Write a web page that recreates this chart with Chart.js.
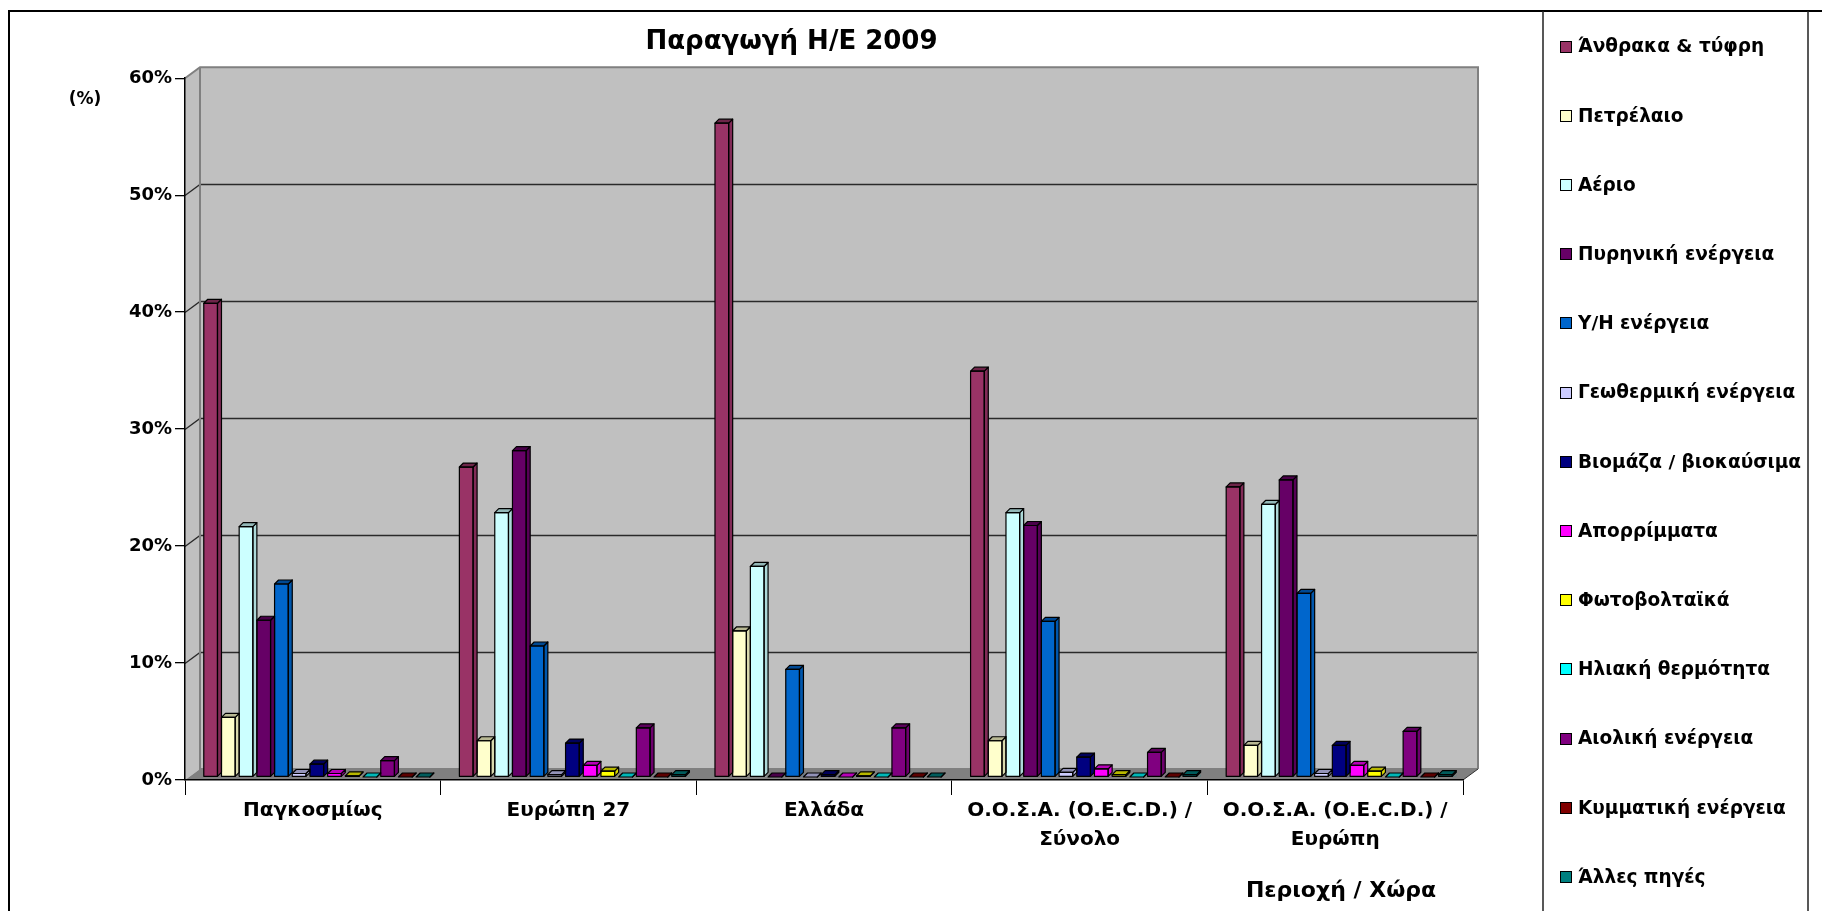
<!DOCTYPE html>
<html lang="el">
<head>
<meta charset="utf-8">
<title>Παραγωγή Η/Ε 2009</title>
<script src="https://cdn.jsdelivr.net/npm/chart.js@4/dist/chart.umd.min.js"></script>
<style>
  html, body { margin: 0; padding: 0; background: #fff; overflow: hidden; }
  canvas { display: block; }
</style>
</head>
<body>
<canvas id="chart" width="1822" height="911"></canvas>
<script>
// ---- data ----
const categories = [
  "Παγκοσμίως",
  "Ευρώπη 27",
  "Ελλάδα",
  ["Ο.Ο.Σ.Α. (O.E.C.D.) /", "Σύνολο"],
  ["Ο.Ο.Σ.Α. (O.E.C.D.) /", "Ευρώπη"]
];

const sourceLabels = [
  "Άνθρακα & τύφρη", "Πετρέλαιο", "Αέριο", "Πυρηνική ενέργεια", "Υ/Η ενέργεια",
  "Γεωθερμική ενέργεια", "Βιομάζα / βιοκαύσιμα", "Απορρίμματα", "Φωτοβολταϊκά",
  "Ηλιακή θερμότητα", "Αιολική ενέργεια", "Κυμματική ενέργεια", "Άλλες πηγές"
];

const sourceColors = [
  "#993366", "#FFFFCC", "#CCFFFF", "#660066", "#0066CC",
  "#CCCCFF", "#000080", "#FF00FF", "#FFFF00",
  "#00FFFF", "#800080", "#800000", "#008080"
];

// share of electricity production (%), per region in category order
const coalPeat     = [40.5, 26.5, 55.9, 34.7, 24.8];
const oil          = [5.1, 3.1, 12.5, 3.1, 2.7];
const gas          = [21.4, 22.6, 18.0, 22.6, 23.3];
const nuclear      = [13.4, 27.9, 0, 21.5, 25.4];
const hydro        = [16.5, 11.2, 9.2, 13.3, 15.7];
const geothermal   = [0.3, 0.2, 0, 0.4, 0.3];
const biomass      = [1.1, 2.9, 0.2, 1.7, 2.7];
const waste        = [0.3, 1.0, 0, 0.7, 1.0];
const photovoltaic = [0.1, 0.5, 0.1, 0.2, 0.5];
const solarThermal = [0.0, 0.0, 0.0, 0.0, 0.0];
const wind         = [1.4, 4.2, 4.2, 2.1, 3.9];
const tidalWave    = [0, 0, 0, 0, 0];
const otherSources = [0, 0.2, 0, 0.2, 0.2];

const yTicks = [0, 10, 20, 30, 40, 50, 60];

const seriesValues = [
  coalPeat, oil, gas, nuclear, hydro, geothermal, biomass,
  waste, photovoltaic, solarThermal, wind, tidalWave, otherSources
];

// ---- drawing helpers ----
const FONT = "'DejaVu Sans', 'Liberation Sans', Arial, sans-serif";
const DEPTH_X = 15, DEPTH_Y = 11;   // depth of the plot box
const BAR_DX = 4, BAR_DY = 4;       // depth of each column
const ROW_SHIFT_X = 6, ROW_SHIFT_Y = -3; // columns stand slightly behind the front edge

function shade(hex, f) {
  const n = parseInt(hex.slice(1), 16);
  const r = Math.round(((n >> 16) & 255) * f);
  const g = Math.round(((n >> 8) & 255) * f);
  const b = Math.round((n & 255) * f);
  return `rgb(${r},${g},${b})`;
}

// frame, walls, floor and back-wall gridlines
const boxPlugin = {
  id: 'box3d',
  beforeDraw(chart) {
    const { ctx, width, height, chartArea: a, scales: { y } } = chart;
    ctx.save();
    ctx.fillStyle = '#fff';
    ctx.fillRect(0, 0, width, height);

    // outer frame
    ctx.strokeStyle = '#000';
    ctx.lineWidth = 2;
    ctx.beginPath();
    ctx.moveTo(9, height + 5);
    ctx.lineTo(9, 11);
    ctx.lineTo(width + 5, 11);
    ctx.stroke();

    const L = a.left, R = a.right, T = a.top, B = a.bottom;
    // left side wall
    ctx.fillStyle = '#c0c0c0';
    ctx.beginPath();
    ctx.moveTo(L, T); ctx.lineTo(L + DEPTH_X, T - DEPTH_Y);
    ctx.lineTo(L + DEPTH_X, B - DEPTH_Y); ctx.lineTo(L, B);
    ctx.closePath(); ctx.fill();
    // back wall
    ctx.fillRect(L + DEPTH_X, T - DEPTH_Y, R - L, B - T);
    // floor
    ctx.fillStyle = '#808080';
    ctx.beginPath();
    ctx.moveTo(L, B); ctx.lineTo(R, B);
    ctx.lineTo(R + DEPTH_X, B - DEPTH_Y); ctx.lineTo(L + DEPTH_X, B - DEPTH_Y);
    ctx.closePath(); ctx.fill();

    // gridlines on the back and side walls
    ctx.strokeStyle = '#2a2a2a';
    ctx.lineWidth = 1.3;
    yTicks.forEach(v => {
      if (v === yTicks[0] || v === yTicks[yTicks.length - 1]) return;
      const py = Math.round(y.getPixelForValue(v)) + 0.5;
      ctx.beginPath();
      ctx.moveTo(L, py);
      ctx.lineTo(L + DEPTH_X, py - DEPTH_Y);
      ctx.lineTo(R + DEPTH_X, py - DEPTH_Y);
      ctx.stroke();
    });
    // wall outlines
    ctx.strokeStyle = '#808080';
    ctx.lineWidth = 2;
    ctx.beginPath();
    ctx.moveTo(L, T); ctx.lineTo(L + DEPTH_X, T - DEPTH_Y);
    ctx.lineTo(R + DEPTH_X, T - DEPTH_Y); ctx.lineTo(R + DEPTH_X, B - DEPTH_Y);
    ctx.moveTo(L + DEPTH_X, T - DEPTH_Y); ctx.lineTo(L + DEPTH_X, B - DEPTH_Y);
    ctx.lineTo(R + DEPTH_X, B - DEPTH_Y);
    ctx.stroke();
    ctx.strokeStyle = '#333';
    ctx.lineWidth = 1;
    ctx.beginPath();
    ctx.moveTo(R, B); ctx.lineTo(R + DEPTH_X, B - DEPTH_Y);
    ctx.stroke();
    ctx.restore();
  },

  beforeDatasetsDraw(chart) {
    chart.ctx.save();
    chart.ctx.translate(ROW_SHIFT_X, ROW_SHIFT_Y);
  },

  // side and top faces of every column
  afterDatasetsDraw(chart) {
    const { ctx } = chart;
    ctx.save();
    ctx.lineJoin = 'round';
    chart.data.datasets.forEach((ds, i) => {
      const meta = chart.getDatasetMeta(i);
      const col = ds.backgroundColor;
      meta.data.forEach(el => {
        const { x, y, base, width } = el.getProps(['x', 'y', 'base', 'width'], true);
        const x0 = x - width / 2, x1 = x + width / 2;
        const top = Math.min(y, base);
        // floor showing under the receding side
        ctx.fillStyle = '#808080';
        ctx.beginPath();
        ctx.moveTo(x1 - BAR_DX, base); ctx.lineTo(x1, base - BAR_DY); ctx.lineTo(x1, base);
        ctx.closePath(); ctx.fill();
        ctx.strokeStyle = '#000';
        ctx.lineWidth = 1.2;
        // side face
        ctx.fillStyle = shade(col, 0.85);
        ctx.beginPath();
        ctx.moveTo(x1 - BAR_DX, base); ctx.lineTo(x1 - BAR_DX, top);
        ctx.lineTo(x1, top - BAR_DY); ctx.lineTo(x1, base - BAR_DY);
        ctx.closePath(); ctx.fill(); ctx.stroke();
        // top face
        ctx.fillStyle = shade(col, 0.72);
        ctx.beginPath();
        ctx.moveTo(x0, top); ctx.lineTo(x0 + BAR_DX, top - BAR_DY);
        ctx.lineTo(x1, top - BAR_DY); ctx.lineTo(x1 - BAR_DX, top);
        ctx.closePath(); ctx.fill(); ctx.stroke();
        // front face outline
        if (base - top > 0.5) ctx.strokeRect(x0, top, width - BAR_DX, base - top);
      });
    });
    ctx.restore();
    ctx.restore();
  },

  // unit label, axis title and legend
  afterDraw(chart) {
    const { ctx } = chart;
    ctx.save();
    ctx.fillStyle = '#000';
    ctx.textBaseline = 'middle';
    ctx.textAlign = 'center';
    ctx.font = `bold 17px ${FONT}`;
    ctx.fillText('(%)', 85, 100);
    ctx.font = `bold 22px ${FONT}`;
    ctx.fillText('Περιοχή / Χώρα', 1341, 891);

    // legend box
    ctx.strokeStyle = '#222';
    ctx.lineWidth = 1.5;
    ctx.beginPath();
    ctx.moveTo(1543, 11); ctx.lineTo(1543, 920);
    ctx.moveTo(1808, 11); ctx.lineTo(1808, 920);
    ctx.stroke();

    ctx.textAlign = 'left';
    ctx.font = `bold 18.5px ${FONT}`;
    chart.data.datasets.forEach((ds, i) => {
      const cy = 46.5 + i * 69.2;
      ctx.fillStyle = ds.backgroundColor;
      ctx.fillRect(1560, Math.round(cy - 6), 12, 12);
      ctx.strokeStyle = '#000';
      ctx.lineWidth = 1;
      ctx.strokeRect(1560.5, Math.round(cy - 6) + 0.5, 11, 11);
      ctx.fillStyle = '#000';
      ctx.fillText(ds.label, 1578, cy + 1);
    });
    ctx.restore();
  }
};

const datasets = sourceLabels.map((label, i) => ({
  label,
  data: seriesValues[i],
  backgroundColor: sourceColors[i],
  borderWidth: 0
}));

new Chart(document.getElementById('chart'), {
  type: 'bar',
  data: { labels: categories, datasets },
  plugins: [boxPlugin],
  options: {
    responsive: false,
    animation: false,
    devicePixelRatio: 1,
    layout: { padding: { left: 120, right: 359, top: 0, bottom: 0 } },
    datasets: { bar: { categoryPercentage: 0.9, barPercentage: 1.0 } },
    plugins: {
      legend: { display: false },
      tooltip: { enabled: false },
      title: {
        display: true,
        text: 'Παραγωγή Η/Ε 2009',
        color: '#000',
        font: { family: FONT, size: 26, weight: 'bold', lineHeight: 1.2 },
        padding: { top: 27, bottom: 20 }
      }
    },
    scales: {
      x: {
        grid: { offset: true, drawOnChartArea: false, drawTicks: true, tickLength: 15, color: '#000', lineWidth: 1 },
        border: { display: true, color: '#000', width: 1.5 },
        ticks: {
          color: '#000',
          padding: 1,
          maxRotation: 0,
          autoSkip: false,
          font: { family: FONT, size: 20, weight: 'bold', lineHeight: 1.45 }
        },
        afterFit(scale) { scale.height = 131; }
      },
      y: {
        min: yTicks[0],
        max: yTicks[yTicks.length - 1],
        afterBuildTicks(scale) { scale.ticks = yTicks.map(v => ({ value: v })); },
        grid: { drawOnChartArea: false, drawTicks: true, tickLength: 10, color: '#000', lineWidth: 1.3 },
        border: { display: true, color: '#000', width: 1.5 },
        ticks: {
          color: '#000',
          padding: 3,
          font: { family: FONT, size: 18, weight: 'bold' },
          callback: v => v + '%'
        },
        afterFit(scale) { scale.width = 65; }
      }
    }
  }
});
</script>
</body>
</html>
